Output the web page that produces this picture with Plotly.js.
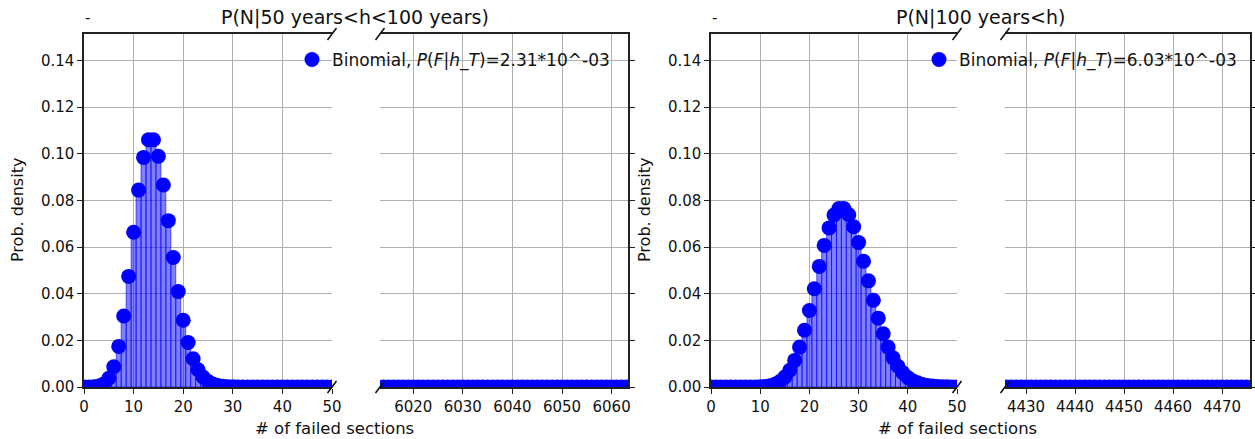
<!DOCTYPE html>
<html>
<head>
<meta charset="utf-8">
<script src="https://cdn.plot.ly/plotly-3.0.1.min.js"></script>
<style>html,body{margin:0;padding:0;background:#fff;}#chart{width:1255px;height:439px;}</style>
</head>
<body>
<div id="chart"></div>
<script>
// ---------- DATA ----------
// Panel A: P(N | 50 years < h < 100 years)
const nA = [0,1,2,3,4,5,6,7,8,9,10,11,12,13,14,15,16,17,18,19,20,21,22,23,24,25,26,27,28,29,30,31,32,33,34,35,36,37,38,39,40,41,42,43,44,45,46,47,48,49,50];
const pA = [8.3e-7,1.16e-5,8.15e-5,3.80e-4,1.33e-3,3.73e-3,8.70e-3,0.0174,0.0304,0.0474,0.0663,0.0844,0.0984,0.1060,0.1060,0.0989,0.0866,0.0713,0.0555,0.0409,0.0286,0.0191,0.0121,0.0074,0.0043,0.0024,0.0013,0.00067,0.00034,0.00016,0.000076,0.000034,0.000015,0.0000064,0.0000026,0.000001,0,0,0,0,0,0,0,0,0,0,0,0,0,0,0];
const nAtail = [6014,6015,6016,6017,6018,6019,6020,6021,6022,6023,6024,6025,6026,6027,6028,6029,6030,6031,6032,6033,6034,6035,6036,6037,6038,6039,6040,6041,6042,6043,6044,6045,6046,6047,6048,6049,6050,6051,6052,6053,6054,6055,6056,6057,6058,6059,6060,6061,6062,6063];
const pAtail = [0,0,0,0,0,0,0,0,0,0,0,0,0,0,0,0,0,0,0,0,0,0,0,0,0,0,0,0,0,0,0,0,0,0,0,0,0,0,0,0,0,0,0,0,0,0,0,0,0,0];

// Panel B: P(N | 100 years < h)
const nB = [0,1,2,3,4,5,6,7,8,9,10,11,12,13,14,15,16,17,18,19,20,21,22,23,24,25,26,27,28,29,30,31,32,33,34,35,36,37,38,39,40,41,42,43,44,45,46,47,48,49,50];
const pB = [0,0,0,0,0,0,1.0e-6,3.9e-6,1.32e-5,3.95e-5,1.07e-4,2.62e-4,5.89e-4,1.22e-3,2.36e-3,4.25e-3,7.17e-3,0.0114,0.0171,0.0243,0.0328,0.0421,0.0517,0.0607,0.0682,0.0737,0.0765,0.0765,0.0738,0.0687,0.0619,0.0539,0.0455,0.0372,0.0295,0.0228,0.0171,0.0125,0.0089,0.0061,0.0041,0.0027,0.0018,0.0011,0.00068,0.00041,0.00024,0.00014,0.000077,0.000042,0.000023];
const nBtail = [4426,4427,4428,4429,4430,4431,4432,4433,4434,4435,4436,4437,4438,4439,4440,4441,4442,4443,4444,4445,4446,4447,4448,4449,4450,4451,4452,4453,4454,4455,4456,4457,4458,4459,4460,4461,4462,4463,4464,4465,4466,4467,4468,4469,4470,4471,4472,4473,4474,4475];
const pBtail = [0,0,0,0,0,0,0,0,0,0,0,0,0,0,0,0,0,0,0,0,0,0,0,0,0,0,0,0,0,0,0,0,0,0,0,0,0,0,0,0,0,0,0,0,0,0,0,0,0,0];

// Ticks and texts
const yTickVals = [0,0.02,0.04,0.06,0.08,0.10,0.12,0.14];
const yTickText = ['0.00','0.02','0.04','0.06','0.08','0.10','0.12','0.14'];
const xTicksHead = [0,10,20,30,40,50];
const xGridHead = [10,20,30,40];
const xTicksTailA = [6020,6030,6040,6050,6060];
const xTicksTailB = [4430,4440,4450,4460,4470];
const titleA = 'P(N|50 years<h<100 years)';
const titleB = 'P(N|100 years<h)';
const legendA = 'Binomial, <i>P</i>(<i>F</i>|<i>h_T</i>)=2.31*10^-03';
const legendB = 'Binomial, <i>P</i>(<i>F</i>|<i>h_T</i>)=6.03*10^-03';
const xLabel = '# of failed sections';
const yLabel = 'Prob. density';

// ---------- LAYOUT ----------
const W = 1255, H = 439;
const px = v => v / W, py = v => 1 - v / H;
const yDom = [py(387), py(34)];
const dom = {
  x1: [px(84), px(332)], x2: [px(380), px(628)],
  x3: [px(711), px(957)], x4: [px(1005), px(1250)]
};
const FONT = 'DejaVu Sans, Liberation Sans, sans-serif';
const TXT = '#111';
const GRID = '#b0b0b0';
const yRange = [0, 0.1513];

function xAx(domain, range, ticks, anchor, gridVals) {
  const ax = {domain: domain, range: range, anchor: anchor, tickmode: 'array', tickvals: ticks,
    ticktext: ticks.map(String), ticks: 'outside', ticklen: 5, tickwidth: 1, tickcolor: '#222',
    showline: true, mirror: true, linecolor: '#222', linewidth: 1.6,
    showgrid: true, gridcolor: GRID, gridwidth: 1, zeroline: false,
    tickfont: {family: FONT, size: 15, color: TXT}, fixedrange: true};
  if (gridVals) {
    ax.showgrid = false;
    ax.minor = {tickmode: 'array', tickvals: gridVals, showgrid: true, gridcolor: GRID,
      gridwidth: 1, ticks: ''};
  }
  return ax;
}
function yAx(anchor, side, labels) {
  return {domain: yDom, range: yRange, anchor: anchor, side: side, tickmode: 'array',
    tickvals: yTickVals, ticktext: yTickText, showticklabels: labels,
    ticks: 'outside', ticklen: 5, tickwidth: 1, tickcolor: '#222',
    showline: true, mirror: false, linecolor: '#222', linewidth: 1.6,
    showgrid: true, gridcolor: GRID, gridwidth: 1, zeroline: false,
    tickfont: {family: FONT, size: 15, color: TXT}, fixedrange: true};
}

function barTrace(x, y, xa, ya) {
  return {type: 'bar', x: x, y: y, xaxis: xa, yaxis: ya, width: 1, showlegend: false,
    marker: {color: 'rgba(0,0,255,0.5)', line: {color: 'rgba(0,0,255,0.6)', width: 1}},
    hoverinfo: 'skip'};
}
function dotTrace(x, y, xa, ya, name, legend, show) {
  return {type: 'scatter', mode: 'markers', x: x, y: y, xaxis: xa, yaxis: ya, name: name,
    legend: legend, showlegend: show, legendgroup: legend,
    marker: {color: '#0000ff', size: 15}, cliponaxis: true};
}

const data = [
  barTrace(nA, pA, 'x', 'y'),
  dotTrace(nA, pA, 'x', 'y', legendA, 'legend', false),
  barTrace(nAtail, pAtail, 'x2', 'y2'),
  dotTrace(nAtail, pAtail, 'x2', 'y2', legendA, 'legend', true),
  barTrace(nB, pB, 'x3', 'y3'),
  dotTrace(nB, pB, 'x3', 'y3', legendB, 'legend2', false),
  barTrace(nBtail, pBtail, 'x4', 'y4'),
  dotTrace(nBtail, pBtail, 'x4', 'y4', legendB, 'legend2', true)
];

// broken-axis diagonal marks
const shapes = [];
const dx = 4.5, dy = 6;
function brk(xpix) {
  [34, 387].forEach(function (ypix) {
    shapes.push({type: 'line', xref: 'paper', yref: 'paper',
      x0: px(xpix - dx), y0: py(ypix + dy), x1: px(xpix + dx), y1: py(ypix - dy),
      line: {color: '#111', width: 1.6}});
  });
}
brk(332); brk(380); brk(957); brk(1005);

const ann = [];
function txt(text, x, y, size, opts) {
  ann.push(Object.assign({text: text, xref: 'paper', yref: 'paper', x: px(x), y: py(y),
    showarrow: false, xanchor: 'center', yanchor: 'middle',
    font: {family: FONT, size: size, color: TXT}}, opts || {}));
}
txt(titleA, 355, 18, 19);
txt(titleB, 980, 18, 19);
txt('-', 87, 18, 15);
txt('-', 714, 18, 15);
txt(xLabel, 334, 428, 16.5);
txt(xLabel, 957, 428, 16.5);
txt(yLabel, 18, 210, 16, {textangle: -90});
txt(yLabel, 645, 210, 16, {textangle: -90});

const layout = {
  width: W, height: H, margin: {l: 0, r: 0, t: 0, b: 0},
  paper_bgcolor: '#fff', plot_bgcolor: 'rgba(0,0,0,0)',
  font: {family: FONT, color: TXT},
  barmode: 'overlay', bargap: 0,
  xaxis: xAx(dom.x1, [0, 50], xTicksHead, 'y', xGridHead),
  yaxis: yAx('x', 'left', true),
  xaxis2: xAx(dom.x2, [6013.3, 6063.3], xTicksTailA, 'y2'),
  yaxis2: yAx('x2', 'right', false),
  xaxis3: xAx(dom.x3, [0, 50], xTicksHead, 'y3', xGridHead),
  yaxis3: yAx('x3', 'left', true),
  xaxis4: xAx(dom.x4, [4425.7, 4475.7], xTicksTailB, 'y4'),
  yaxis4: yAx('x4', 'right', false),
  legend: {x: px(292), xanchor: 'left', y: py(60), yanchor: 'middle', bgcolor: 'rgba(0,0,0,0)',
    borderwidth: 0, font: {family: FONT, size: 17, color: TXT}},
  legend2: {x: px(919), xanchor: 'left', y: py(60), yanchor: 'middle', bgcolor: 'rgba(0,0,0,0)',
    borderwidth: 0, font: {family: FONT, size: 17, color: TXT}},
  shapes: shapes,
  annotations: ann
};

Plotly.newPlot('chart', data, layout, {displayModeBar: false, staticPlot: true});
</script>
</body>
</html>
